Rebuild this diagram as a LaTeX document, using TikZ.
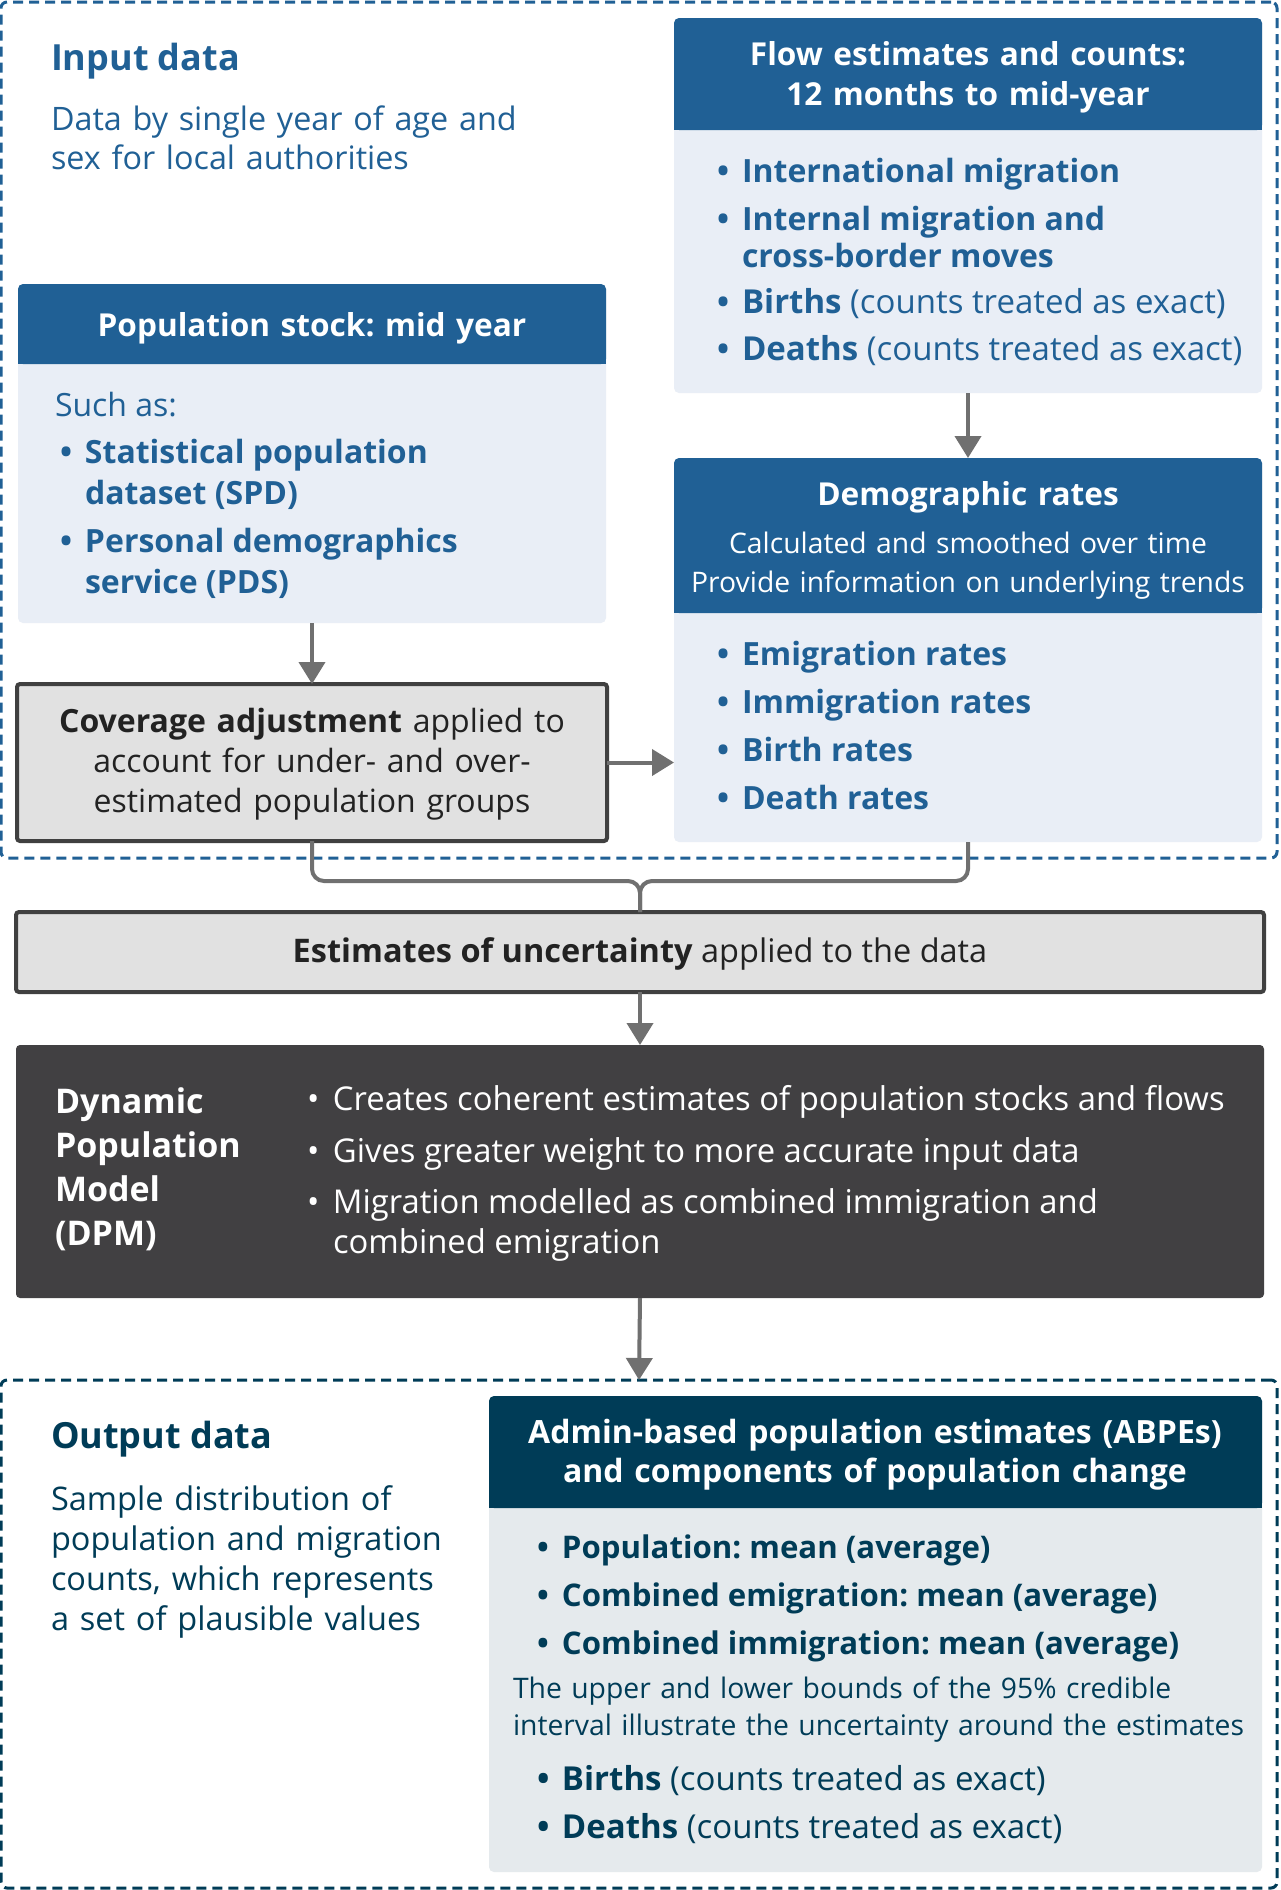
\documentclass[tikz,border=0pt]{standalone}
\usepackage{fontspec}
\setmainfont{Open Sans}
\usetikzlibrary{arrows.meta}
\definecolor{onsblue}{HTML}{206095}
\definecolor{lblue}{HTML}{E9EEF6}
\definecolor{navy}{HTML}{003C57}
\definecolor{lnavy}{HTML}{E5EAED}
\definecolor{gfill}{HTML}{E1E1E1}
\definecolor{gline}{HTML}{404040}
\definecolor{dpmc}{HTML}{414042}
\definecolor{arrc}{HTML}{707070}
\definecolor{ink}{HTML}{222222}
\newcommand\fs[2]{\fontsize{#1}{#2}\selectfont}
\newcommand\bul{\makebox[25pt][l]{\textbf{•}}}
\newcommand\lbul{\makebox[26pt][l]{•}}
\frenchspacing
\begin{document}
\begin{tikzpicture}[x=1pt,y=-1pt,
  every node/.style={inner sep=0pt,outer sep=0pt,execute at begin node=\frenchspacing},
  boxbase/.style={rectangle,anchor=north west},
  lightbox/.style={boxbase,rounded corners=5pt},
  hdrbox/.style={boxbase,rounded corners=5pt},
  graybox/.style={boxbase,fill=gfill,draw=gline,line width=4pt,rounded corners=3pt},
  darkbox/.style={boxbase,fill=dpmc,rounded corners=4pt},
  dashbox/.style={boxbase,line width=3pt,dash pattern=on 10pt off 6pt,rounded corners=6pt},
  arr/.style={draw=arrc,line width=4pt,-{Triangle[width=26pt,length=22pt]}},
  conn/.style={draw=arrc,line width=4pt,rounded corners=12pt},
  hd/.style={font=\bfseries\fs{31.6}{40},text=white,align=center,anchor=base},
  bigtitle/.style={font=\bfseries\fs{36}{40},anchor=base west},
]
\useasboundingbox (0,0) rectangle (1280,1890);
\fill[white] (0,0) rectangle (1280,1890);

% ---------- Input dashed frame ----------
\node[dashbox,draw=onsblue,minimum width=1276,minimum height=856] (inbox) at (1,2) {};
\node[bigtitle,text=onsblue] (intitle) at (51,70) {Input data};
\node[anchor=base west,text width=500,align=left,font=\fs{32.3}{39},text=onsblue] (insub) at (51,130)
  {Data by single year of age and\\sex for local authorities};

% ---------- Flow estimates ----------
\node[lightbox,fill=lblue,minimum width=588,minimum height=375] (flow) at (674,18) {};
\node[hdrbox,fill=onsblue,minimum width=588,minimum height=112] (flowh) at (674,18) {};
\fill[onsblue] ([yshift=8pt]flowh.south west) rectangle (flowh.south east);
\node[hd,text width=588] (flowt) at (968,65) {Flow estimates and counts:\\12 months to mid-year};
\node[anchor=base west,font=\fs{32}{37},text=onsblue] (flowl) at (717,182) {%
\begin{tabular}[t]{@{}l@{}l@{}}
\bul&\textbf{International migration}\\[11pt]
\bul&\textbf{Internal migration and}\\
&\textbf{cross-border moves}\\[9pt]
\bul&\fs{33}{37}\textbf{Births} (counts treated as exact)\\[10pt]
\bul&\fs{33}{37}\textbf{Deaths} (counts treated as exact)
\end{tabular}};

% ---------- Population stock ----------
\node[lightbox,fill=lblue,minimum width=588,minimum height=339] (pop) at (18,284) {};
\node[hdrbox,fill=onsblue,minimum width=588,minimum height=80] (poph) at (18,284) {};
\fill[onsblue] ([yshift=8pt]poph.south west) rectangle (poph.south east);
\node[hd,text width=588] (popt) at (312,336) {Population stock: mid year};
\node[anchor=base west,font=\fs{32}{39},text=onsblue] (popsuch) at (55,416) {Such as:};
\node[anchor=base west,font=\fs{32}{41},text=onsblue] (popl) at (60,463) {%
\begin{tabular}[t]{@{}l@{}l@{}}
\bul&\textbf{Statistical population}\\
&\textbf{dataset (SPD)}\\[7pt]
\bul&\textbf{Personal demographics}\\
&\textbf{service (PDS)}
\end{tabular}};

% ---------- Demographic rates ----------
\node[lightbox,fill=lblue,minimum width=588,minimum height=384] (demo) at (674,458) {};
\node[hdrbox,fill=onsblue,minimum width=588,minimum height=155] (demoh) at (674,458) {};
\fill[onsblue] ([yshift=8pt]demoh.south west) rectangle (demoh.south east);
\node[hd,text width=588] (demot) at (968,505) {Demographic rates};
\node[anchor=base,text width=588,align=center,font=\fs{28.3}{39},text=white] (demos) at (968,553)
  {Calculated and smoothed over time\\Provide information on underlying trends};
\node[anchor=base west,font=\bfseries\fs{32}{48},text=onsblue] (demol) at (717,665) {%
\begin{tabular}[t]{@{}l@{}l@{}}
\bul&Emigration rates\\
\bul&Immigration rates\\
\bul&Birth rates\\
\bul&Death rates
\end{tabular}};

% ---------- Coverage adjustment ----------
\node[graybox,minimum width=590,minimum height=157] (cov) at (17,684) {};
\node[anchor=base,text width=580,align=center,font=\fs{32}{40},text=ink] (covt) at (312,732)
  {\textbf{Coverage adjustment} applied to\\account for under- and over-\\estimated population groups};

% ---------- Uncertainty ----------
\node[graybox,minimum width=1248,minimum height=80] (unc) at (16,912) {};
\node[anchor=base,font=\fs{32.5}{40},text=ink] (unct) at (640,962)
  {\textbf{Estimates of uncertainty} applied to the data};

% ---------- DPM ----------
\node[darkbox,minimum width=1248,minimum height=253] (dpm) at (16,1045) {};
\node[anchor=base west,text width=240,align=left,font=\bfseries\fs{34}{44},text=white] (dpmt) at (55,1113)
  {Dynamic\\Population\\Model\\(DPM)};
\node[anchor=base west,font=\fs{32.8}{40},text=white] (dpml) at (307,1110) {%
\begin{tabular}[t]{@{}l@{}l@{}}
\lbul&Creates coherent estimates of population stocks and flows\\[12pt]
\lbul&Gives greater weight to more accurate input data\\[11pt]
\lbul&Migration modelled as combined immigration and\\
&combined emigration
\end{tabular}};

% ---------- Output dashed frame ----------
\node[dashbox,draw=navy,minimum width=1276,minimum height=508] (outbox) at (1,1380) {};
\node[bigtitle,text=navy] (outtitle) at (51,1448) {Output data};
\node[anchor=base west,text width=440,align=left,font=\fs{32.5}{40},text=navy] (outsub) at (51,1510)
  {Sample distribution of\\population and migration\\counts, which represents\\a set of plausible values};

% ---------- ABPEs ----------
\node[lightbox,fill=lnavy,minimum width=773,minimum height=476] (abpe) at (489,1396) {};
\node[hdrbox,fill=navy,minimum width=773,minimum height=112] (abpeh) at (489,1396) {};
\fill[navy] ([yshift=8pt]abpeh.south west) rectangle (abpeh.south east);
\node[hd,text width=773,font=\bfseries\fs{32}{39}] (abpet) at (875,1443)
  {Admin-based population estimates (ABPEs)\\and components of population change};
\node[anchor=base west,font=\bfseries\fs{31.2}{48},text=navy] (abpel) at (537,1558) {%
\begin{tabular}[t]{@{}l@{}l@{}}
\bul&Population: mean (average)\\
\bul&Combined emigration: mean (average)\\
\bul&Combined immigration: mean (average)
\end{tabular}};
\node[anchor=base west,text width=760,align=left,font=\fs{28.3}{37},text=navy] (abpep) at (513,1698)
  {The upper and lower bounds of the 95\% credible\\interval illustrate the uncertainty around the estimates};
\node[anchor=base west,font=\fs{33}{48},text=navy] (abpel2) at (537,1790) {%
\begin{tabular}[t]{@{}l@{}l@{}}
\bul&\textbf{Births} (counts treated as exact)\\
\bul&\textbf{Deaths} (counts treated as exact)
\end{tabular}};

% ---------- Connectors ----------
\coordinate (join) at (640,881);
\draw[arr] (flow.south) -- (demo.north);
\draw[arr] (pop.south) -- (cov.north);
\draw[arr] (cov.east) -- (cov.east -| demo.west);
\draw[conn] (cov.south) |- (join) -- (unc.north);
\draw[conn] (demo.south) |- (join) -- (unc.north);
\draw[arr] (unc.south) -- (dpm.north);
\draw[arr] (dpm.south) -- (outbox.north);
\end{tikzpicture}
\end{document}
